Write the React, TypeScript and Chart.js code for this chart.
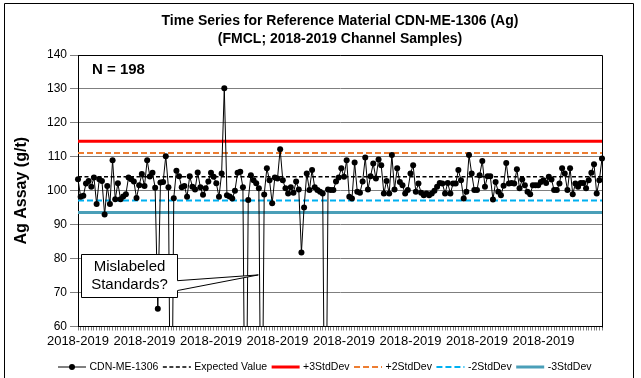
import { useEffect, useRef } from "react";
import { Chart, registerables } from "chart.js";

Chart.register(...registerables);

const FONT = '"Liberation Sans", Arial, Helvetica, sans-serif';

const titleLines = [
  "Time Series for Reference Material CDN-ME-1306 (Ag)",
  "(FMCL; 2018-2019 Channel Samples)",
];
const yAxisTitle = "Ag Assay (g/t)";
const seriesName = "CDN-ME-1306";
const period = "2018-2019";

// Ag assays of the certified standard, in submission order
const agAssay = [
  103.4, 98.2, 98.5, 102.1, 102.9, 101.2, 103.9, 96.1, 103.4, 102.9,
  93.0, 101.4, 96.1, 109.0, 97.5, 102.2, 97.5, 98.3, 99.0, 103.9,
  103.4, 102.7, 97.9, 101.6, 104.9, 101.4, 109.0, 104.2, 105.3, 100.9,
  65.2, 102.4, 102.6, 110.2, 101.0, 0.5, 97.8, 105.9, 104.3, 101.0,
  101.4, 98.2, 104.3, 101.2, 100.4, 105.4, 101.0, 98.8, 100.7, 102.7,
  105.3, 104.1, 102.2, 98.2, 105.1, 130.2, 98.7, 98.3, 97.7, 100.0,
  105.3, 105.6, 101.0, 0.8, 97.3, 104.6, 103.1, 102.2, 100.7, 1.1,
  98.9, 106.6, 103.1, 96.3, 103.9, 103.6, 112.2, 103.1, 100.7, 99.2,
  101.0, 99.4, 102.7, 100.4, 81.8, 95.1, 105.1, 100.2, 106.1, 101.0,
  100.2, 99.7, 99.2, 0.6, 100.4, 100.2, 100.2, 102.7, 103.9, 106.6,
  104.1, 109.0, 98.2, 97.7, 108.3, 99.7, 99.4, 102.7, 109.8, 100.4,
  104.3, 108.0, 103.6, 109.2, 107.5, 99.2, 102.9, 99.2, 110.5, 100.4,
  106.6, 102.6, 101.6, 99.2, 100.2, 105.1, 107.5, 99.7, 102.1, 99.4,
  98.7, 99.2, 98.7, 99.2, 100.0, 101.2, 102.3, 102.1, 99.2, 102.3,
  99.2, 102.1, 102.1, 106.1, 103.1, 97.7, 99.7, 110.5, 105.1, 100.2,
  100.2, 104.6, 108.8, 101.2, 104.3, 104.3, 97.4, 102.6, 99.7, 98.7,
  101.5, 108.2, 102.1, 102.3, 102.1, 106.3, 100.7, 103.3, 101.6, 99.7,
  99.0, 101.6, 101.6, 101.6, 102.6, 103.1, 102.3, 104.1, 103.3, 100.2,
  100.2, 102.1, 106.6, 105.1, 100.2, 106.6, 99.0, 102.1, 101.2, 102.3,
  102.3, 100.7, 103.1, 105.3, 107.8, 99.2, 103.1, 109.5,
];

// every sample belongs to the same campaign
const categories: string[] = agAssay.map(() => period);
const xLabelEvery = 25;

const yTicks = [60, 70, 80, 90, 100, 110, 120, 130, 140];

// certified value and control limits (g/t)
const limitNames = ["Expected Value", "+3StdDev", "+2StdDev", "-2StdDev", "-3StdDev"];
const limitValues = [104.1, 114.6, 111.1, 97.1, 93.6];

const limitStyles = [
  { color: "#000000", width: 1.5, dash: [4, 2.5] },
  { color: "#FF0000", width: 3, dash: [] as number[] },
  { color: "#ED7D31", width: 2, dash: [6, 3] },
  { color: "#00B0F0", width: 2, dash: [6, 3] },
  { color: "#4A9FB8", width: 3, dash: [] as number[] },
];

// callout box, in category index / g/t units
const calloutLines = ["Mislabeled", "Standards?"];
const calloutBox = { x0: 1.0, x1: 37.1, yTop: 81.4, yBottom: 68.6 };
const calloutTip = { x: 67.8, y: 75.2 };
const calloutBase = { yTop: 73.5, yBottom: 70.6 };

const framePlugin = {
  id: "plotFrame",
  beforeDraw(chart: any) {
    const { ctx, width, height } = chart;
    ctx.save();
    ctx.fillStyle = "#fff";
    ctx.fillRect(0, 0, width, height);
    ctx.strokeStyle = "#000";
    ctx.lineWidth = 1;
    ctx.beginPath();
    ctx.moveTo(4.5, height + 2);
    ctx.lineTo(4.5, 3.5);
    ctx.lineTo(633.5, 3.5);
    ctx.lineTo(633.5, height + 2);
    ctx.stroke();
    ctx.restore();
  },
  beforeDatasetsDraw(chart: any) {
    const { ctx, chartArea: a } = chart;
    ctx.save();
    ctx.strokeStyle = "#000";
    ctx.lineWidth = 1;
    ctx.beginPath();
    ctx.moveTo(Math.round(a.left) + 0.5, Math.round(a.top) + 0.5);
    ctx.lineTo(Math.round(a.right) + 0.5, Math.round(a.top) + 0.5);
    ctx.lineTo(Math.round(a.right) + 0.5, Math.round(a.bottom) + 0.5);
    ctx.stroke();
    ctx.restore();
  },
};

const notesPlugin = {
  id: "notes",
  afterDatasetsDraw(chart: any) {
    const { ctx, chartArea: a, scales } = chart;
    const xs = scales.x;
    const ys = scales.y;
    ctx.save();

    // sample count
    ctx.font = `bold 15px ${FONT}`;
    ctx.fillStyle = "#000";
    ctx.textAlign = "left";
    ctx.textBaseline = "middle";
    ctx.fillText(`N = ${agAssay.length}`, a.left + 14, a.top + 15);

    // callout
    const bx0 = Math.round(xs.getPixelForValue(calloutBox.x0)) + 0.5;
    const bx1 = Math.round(xs.getPixelForValue(calloutBox.x1)) + 0.5;
    const by0 = Math.round(ys.getPixelForValue(calloutBox.yTop)) + 0.5;
    const by1 = Math.round(ys.getPixelForValue(calloutBox.yBottom)) + 0.5;
    const tx = xs.getPixelForValue(calloutTip.x);
    const ty = ys.getPixelForValue(calloutTip.y);
    const w0 = ys.getPixelForValue(calloutBase.yTop);
    const w1 = ys.getPixelForValue(calloutBase.yBottom);
    ctx.beginPath();
    ctx.moveTo(bx0, by0);
    ctx.lineTo(bx1, by0);
    ctx.lineTo(bx1, w0);
    ctx.lineTo(tx, ty);
    ctx.lineTo(bx1, w1);
    ctx.lineTo(bx1, by1);
    ctx.lineTo(bx0, by1);
    ctx.closePath();
    ctx.fillStyle = "#fff";
    ctx.fill();
    ctx.strokeStyle = "#000";
    ctx.lineWidth = 1;
    ctx.stroke();

    ctx.fillStyle = "#000";
    ctx.font = `15px ${FONT}`;
    ctx.textAlign = "center";
    ctx.textBaseline = "middle";
    const cx = (bx0 + bx1) / 2;
    const cy = (by0 + by1) / 2;
    ctx.fillText(calloutLines[0], cx, cy - 9);
    ctx.fillText(calloutLines[1], cx, cy + 9);
    ctx.restore();
  },
};

const legendPlugin = {
  id: "lineLegend",
  afterDraw(chart: any) {
    const { ctx } = chart;
    const y = 367;
    let x = 58;
    const sample = 28;
    ctx.save();
    ctx.font = `10.5px ${FONT}`;
    ctx.textAlign = "left";
    ctx.textBaseline = "middle";
    chart.data.datasets.forEach((ds: any) => {
      ctx.beginPath();
      ctx.strokeStyle = ds.borderColor;
      ctx.lineWidth = ds.borderWidth;
      ctx.setLineDash(ds.borderDash || []);
      ctx.moveTo(x, y);
      ctx.lineTo(x + sample, y);
      ctx.stroke();
      ctx.setLineDash([]);
      if (ds.pointRadius > 0) {
        ctx.beginPath();
        ctx.fillStyle = ds.pointBackgroundColor;
        ctx.arc(x + sample / 2, y, ds.pointRadius, 0, Math.PI * 2);
        ctx.fill();
      }
      ctx.fillStyle = "#000";
      const tx = x + sample + 3.5;
      ctx.fillText(ds.label, tx, y);
      x = tx + ctx.measureText(ds.label).width + 4.5;
    });
    ctx.restore();
  },
};

export default function App() {
  const canvasRef = useRef<HTMLCanvasElement | null>(null);

  useEffect(() => {
    document.body.style.margin = "0";
    const canvas = canvasRef.current;
    if (!canvas) return;

    const limitSets = limitValues.map((v, k) => ({
      label: limitNames[k],
      data: categories.map(() => v),
      borderColor: limitStyles[k].color,
      borderWidth: limitStyles[k].width,
      borderDash: limitStyles[k].dash,
      pointRadius: 0,
      pointHoverRadius: 0,
      fill: false,
      tension: 0,
    }));

    const chart = new Chart(canvas, {
      type: "line",
      data: {
        labels: categories,
        datasets: [
          {
            label: seriesName,
            data: agAssay,
            borderColor: "#000000",
            borderWidth: 1,
            pointRadius: 3,
            pointBackgroundColor: "#000000",
            pointBorderColor: "#000000",
            pointBorderWidth: 0,
            pointHoverRadius: 3,
            fill: false,
            tension: 0,
            clip: { left: 6, right: 6, top: 6, bottom: 0 },
          } as any,
          ...limitSets,
        ],
      },
      options: {
        animation: false,
        responsive: false,
        maintainAspectRatio: false,
        devicePixelRatio: 1,
        events: [],
        layout: { padding: { left: 0, right: 39, top: 0, bottom: 29.5 } },
        plugins: {
          legend: { display: false },
          tooltip: { enabled: false },
          title: {
            display: true,
            fullSize: false,
            text: titleLines,
            color: "#000",
            font: { family: FONT, size: 14, weight: "bold", lineHeight: 1.3 },
            padding: { top: 12, bottom: 6.6 },
          },
        },
        scales: {
          x: {
            type: "category",
            offset: false,
            grid: {
              drawOnChartArea: false,
              drawTicks: true,
              tickLength: 4,
              color: "#7F7F7F",
              offset: false,
            },
            border: { display: true, color: "#000" },
            ticks: {
              autoSkip: false,
              maxRotation: 0,
              minRotation: 0,
              padding: 3,
              color: "#000",
              font: { family: FONT, size: 13 },
              callback: (_v: any, i: number) => (i % xLabelEvery === 0 ? categories[i] : ""),
            },
            afterFit: (s: any) => {
              s.height = 22;
            },
          },
          y: {
            min: yTicks[0],
            max: yTicks[yTicks.length - 1],
            grid: { color: "#7F7F7F", tickLength: 8, lineWidth: 1 },
            border: { display: true, color: "#000" },
            ticks: {
              stepSize: yTicks[1] - yTicks[0],
              padding: 3,
              color: "#000",
              font: { family: FONT, size: 12 },
            },
            title: {
              display: true,
              text: yAxisTitle,
              color: "#000",
              font: { family: FONT, size: 16, weight: "bold" },
              padding: { top: 12, bottom: 0 },
            },
            afterFit: (s: any) => {
              s.width = 78;
            },
          },
        },
      },
      plugins: [framePlugin, notesPlugin, legendPlugin],
    });

    return () => chart.destroy();
  }, []);

  return (
    <div style={{ width: 641, height: 378 }}>
      <canvas ref={canvasRef} width={641} height={378} />
    </div>
  );
}
